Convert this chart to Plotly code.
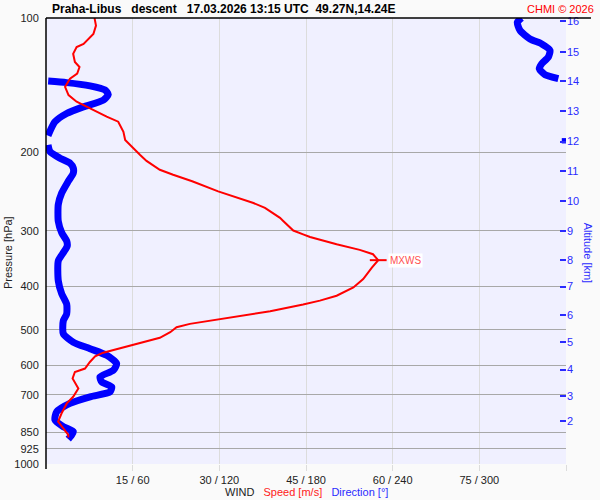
import math
import plotly.graph_objects as go

# ---------------- data ----------------
# wind speed profile [m/s] vs pressure [hPa]
speed_p = [100, 104.0, 108.6, 114.3, 116.2, 120.3, 125.5, 128.8, 133.3, 136.8, 142.7, 148.9,
           154.1, 159.5, 166.4, 170.8, 179.9, 187.7, 196.0, 202.8, 209.1, 218.9, 224.6, 232.3,
           244.7, 251.2, 259.9, 266.6, 273.7, 280.6, 285.6, 295.4, 299.6, 305.6, 309.8, 321.7,
           331.1, 338.6, 349.1, 362.7, 384.9, 401.9, 419.4, 430.2, 439.1, 454.5, 466.5, 475.2,
           485.1, 493.6, 506.4, 521.2, 535.8, 549.7, 562.8, 573.6, 590.6, 610.9, 621.7, 643.2,
           677.1, 706.9, 731.4, 769.7, 803.5, 831.5, 860.5, 871.6]
speed_ms = [8.4, 8.65, 8.2, 6.5, 5.3, 4.7, 5.0, 5.8, 5.4, 4.15, 3.3, 3.9,
            5.3, 7.6, 10.5, 12.5, 13.4, 13.7, 15.1, 16.3, 17.4, 19.7, 22.0, 25.3,
            29.8, 32.4, 35.9, 37.9, 39.3, 40.5, 41.1, 42.2, 42.8, 44.5, 45.7, 50.3,
            54.3, 56.6, 57.5, 56.4, 54.9, 53.2, 50.3, 47.4, 44.5, 38.8, 33.0, 29.0,
            24.9, 22.6, 21.5, 19.7, 16.3, 12.8, 9.9, 8.5, 7.6, 6.75, 5.0, 4.6,
            5.6, 4.7, 3.6, 2.7, 2.1, 3.0, 3.86, 3.86]

# wind direction profile [deg] vs pressure [hPa]
dir_p = [100, 102.2, 106.7, 111.4, 114.3, 118.2, 122.3, 126.6, 129.9, 134.0, 136.8,
         138.5, 139.6, 142.0, 145.0, 148.5, 152.8, 158.2, 163.7, 170.9, 183.5,
         185.9, 191.1,
         192.5, 199.3, 206.2, 211.6, 217.1, 222.7, 232.4, 246.8, 261.9, 285.6, 303.0, 316.2,
         324.4, 335.8, 350.4, 388.3, 415.5, 437.8, 461.0, 476.9, 510.5, 533.1, 551.4, 570.6,
         595.5, 616.5, 637.8, 654.5, 671.4, 689.1, 706.9, 731.4, 763.3, 796.5, 824.8, 846.1,
         860.5, 879.6]
dir_deg = [329.3, 326.3, 328.2, 335.1, 343.2, 348.9, 347.8, 343.2, 341.5, 345.5, 354.7,
           1.5, 14.3, 30.5, 40.8, 43.1, 39.7, 25.8, 14.3, 6.2, 1.4,
           359.5, 359.5,
           1.4, 2.8, 9.7, 16.6, 18.9, 18.9, 15.4, 10.9, 8.5, 8.5, 10.9, 14.3,
           14.7, 12.0, 8.5, 8.5, 10.9, 14.3, 14.3, 12.0, 12.0, 18.9, 30.5, 42.0,
           48.9, 46.6, 37.4, 38.6, 45.5, 44.3, 30.5, 16.6, 7.4, 6.2, 12.0, 18.9,
           17.8, 15.4]

# axes ticks / labels
p_ticks = [100, 200, 300, 400, 500, 600, 700, 850, 925, 1000]
p_ticktext = ["100", "200", "300", "400", "500", "600", "700", "850", "925", "1000"]
speed_ticks = [15, 30, 45, 60, 75, 90]
wind_ticktext = ["15 / 60", "30 / 120", "45 / 180", "60 / 240", "75 / 300", ""]
alt_km = ["16", "15", "14", "13", "12", "11", "10", "9", "8", "7", "6", "5", "4", "3", "2"]
alt_p = [101.7, 119.2, 138.6, 161.7, 189.3, 220.4, 257.5, 300.0, 348.6, 400.0, 463.6,
         533.0, 614.0, 704.0, 801.0]

SPEED_MAX_AXIS = 90.0
DEG_PER_MS = 360.0 / SPEED_MAX_AXIS

RED = "#ff0000"
BLUE = "#0000ff"
AXBLUE = "#2a2aff"
FONT = "Arial, Liberation Sans, sans-serif"

# direction on the speed axis; break the line where it wraps 360 -> 0
dx, dy = [], []
prev = None
for p, d in zip(dir_p, dir_deg):
    if prev is not None and abs(d - prev) > 180:
        dx.append(None)
        dy.append(None)
    dx.append(d / DEG_PER_MS)
    dy.append(p)
    prev = d

imax = max(range(len(speed_ms)), key=lambda i: speed_ms[i])
mx_s, mx_p = speed_ms[imax], speed_p[imax]

fig = go.Figure()
fig.add_trace(go.Scatter(x=dx, y=dy, mode="lines",
                         line=dict(color=BLUE, width=7, shape="spline", smoothing=0.6),
                         hoverinfo="skip", showlegend=False))
fig.add_trace(go.Scatter(x=speed_ms, y=speed_p, mode="lines", line=dict(color=RED, width=2),
                         hoverinfo="skip", showlegend=False))
fig.add_trace(go.Scatter(x=[mx_s], y=[mx_p], mode="markers",
                         marker=dict(symbol="line-ew", size=12, line=dict(color=RED, width=2)),
                         hoverinfo="skip", showlegend=False))
# dummy trace for the altitude axis
fig.add_trace(go.Scatter(x=[None], y=[None], yaxis="y2", showlegend=False, hoverinfo="skip"))

ylog = math.log10(mx_p)
shapes = [
    dict(type="line", xref="paper", yref="paper", x0=0, x1=0, y0=-0.011, y1=1,
         line=dict(color="black", width=1.5)),
    dict(type="line", xref="paper", yref="paper", x0=0, x1=1.048, y0=1, y1=1,
         line=dict(color="black", width=1.5)),
    dict(type="line", xref="paper", yref="y", x0=-0.006, x1=0.021, y0=ylog, y1=ylog,
         line=dict(color=RED, width=1.5)),
    dict(type="line", xref="paper", yref="y", x0=0.979, x1=1.003, y0=ylog, y1=ylog,
         line=dict(color=RED, width=1.5)),
]

annotations = [
    dict(text="Praha-Libus\u00a0\u00a0\u00a0descent\u00a0\u00a0\u00a017.03.2026 13:15 UTC\u00a0\u00a049.27N,14.24E",
         xref="paper", yref="paper", x=0.0077, y=1.02, xanchor="left", yanchor="middle",
         showarrow=False, font=dict(family=FONT, size=12, color="black", weight="bold")),
    dict(text="CHMI © 2026", xref="paper", yref="paper", x=1.0577, y=1.02,
         xanchor="right", yanchor="middle", showarrow=False,
         font=dict(family=FONT, size=11, color=RED)),
    dict(text="Pressure [hPa]", xref="paper", yref="paper", x=-0.073, y=0.473,
         textangle=-90, showarrow=False, xanchor="center", yanchor="middle",
         font=dict(family=FONT, size=11, color="#222")),
    dict(text="Altitude [km]", xref="paper", yref="paper", x=1.042, y=0.472,
         textangle=90, showarrow=False, xanchor="center", yanchor="middle",
         font=dict(family=FONT, size=11, color=AXBLUE)),
    dict(text="WIND\u00a0\u00a0\u00a0<span style='color:#ff2020'>Speed [m/s]</span>\u00a0\u00a0\u00a0"
              "<span style='color:#2a2aff'>Direction [°]</span>",
         xref="paper", yref="paper", x=0.5, y=-0.063, xanchor="center", yanchor="middle",
         showarrow=False, font=dict(family=FONT, size=11, color="#222")),
    dict(text="MXWS", x=mx_s, y=ylog, xref="x", yref="y", xanchor="left", yanchor="middle",
         xshift=10, showarrow=False, bgcolor="white", borderpad=1,
         font=dict(family=FONT, size=10, color="#ff5050")),
]

fig.update_layout(
    width=600, height=500,
    margin=dict(l=46, r=34, t=16, b=36),
    paper_bgcolor="#fafafa", plot_bgcolor="#f0f0ff",
    font=dict(family=FONT, size=11, color="#222"),
    showlegend=False,
    xaxis=dict(range=[0, SPEED_MAX_AXIS], tickvals=speed_ticks, ticktext=wind_ticktext,
               showgrid=True, gridcolor="#dcdcdc", gridwidth=1, zeroline=False, showline=False,
               ticks="outside", ticklen=6, tickcolor="#dcdcdc",
               tickfont=dict(family=FONT, size=11, color="#222"), fixedrange=True),
    yaxis=dict(type="log", range=[3, 2], tickvals=p_ticks, ticktext=p_ticktext,
               showgrid=True, gridcolor="#a8a8a8", gridwidth=1, zeroline=False, showline=False,
               ticks="outside", ticklen=4, tickcolor="rgba(0,0,0,0)",
               tickfont=dict(family=FONT, size=11, color="#222"), fixedrange=True),
    yaxis2=dict(type="log", range=[3, 2], overlaying="y", side="right",
                tickvals=alt_p, ticktext=alt_km, showgrid=False, zeroline=False, showline=False,
                ticks="inside", ticklen=6, tickwidth=2, tickcolor=AXBLUE,
                tickfont=dict(family=FONT, size=11, color=AXBLUE), fixedrange=True),
    shapes=shapes,
    annotations=annotations,
)

fig.write_html("out.html", config={"displayModeBar": False},
               post_script="document.body.style.margin='0';document.body.style.overflow='hidden';")
